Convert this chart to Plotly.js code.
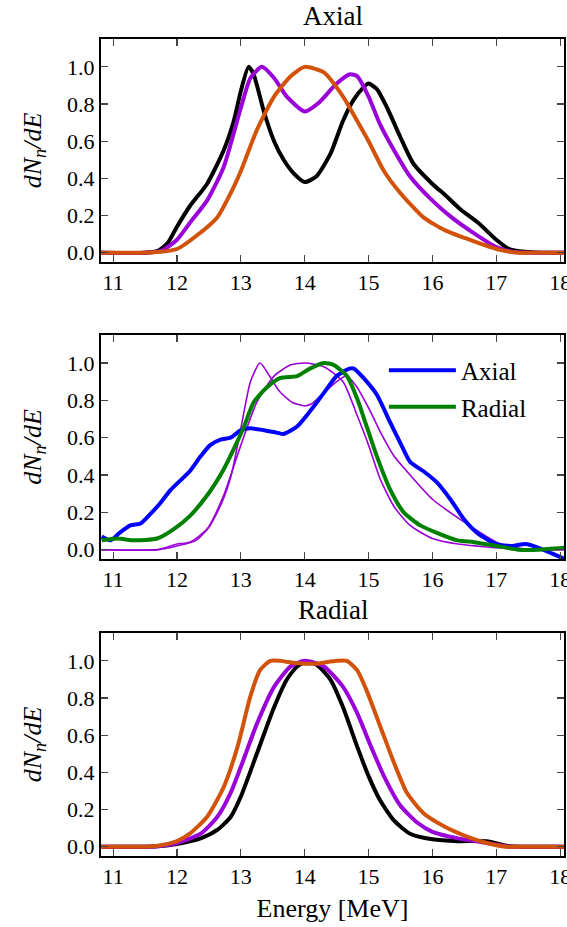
<!DOCTYPE html>
<html>
<head>
<meta charset="utf-8">
<script src="https://cdn.plot.ly/plotly-3.0.1.min.js"></script>
<style>html,body{margin:0;padding:0;background:#fff;}#chart{width:567px;height:927px;}</style>
</head>
<body>
<div id="chart"></div>
<script>
// ---- Top panel (Axial) ----
const topBlackE = [10.8,11.5,11.7,11.85,12.0,12.2,12.47,12.73,12.89,13.0,13.12,13.2,13.36,13.52,13.67,13.82,14.0,14.18,14.4,14.6,14.76,14.92,15.0,15.13,15.29,15.5,15.7,16.0,16.2,16.45,16.72,17.0,17.2,17.45,17.7,18.1];
const topBlackY = [0,0,0.01,0.05,0.14,0.25,0.37,0.55,0.71,0.87,1.0,0.96,0.76,0.60,0.50,0.43,0.38,0.41,0.53,0.71,0.82,0.89,0.91,0.88,0.78,0.62,0.48,0.37,0.31,0.23,0.16,0.07,0.02,0.005,0,0];
const topPurpleE = [10.8,11.5,11.75,12.0,12.2,12.47,12.73,13.0,13.15,13.33,13.52,13.72,14.0,14.23,14.5,14.71,14.82,15.0,15.18,15.4,15.65,16.0,16.3,16.67,17.0,17.25,17.5,18.1];
const topPurpleY = [0,0,0.01,0.07,0.16,0.28,0.46,0.78,0.94,1.0,0.94,0.84,0.76,0.81,0.91,0.96,0.95,0.84,0.69,0.55,0.41,0.28,0.19,0.10,0.03,0.005,0,0];
const topOrangeE = [10.8,11.5,11.75,12.0,12.3,12.63,12.84,13.0,13.25,13.52,13.78,14.0,14.3,14.6,14.82,15.0,15.24,15.5,15.86,16.2,16.5,17.0,17.35,17.6,18.1];
const topOrangeY = [0,0,0.005,0.02,0.09,0.19,0.32,0.44,0.66,0.84,0.95,1.0,0.97,0.84,0.71,0.60,0.44,0.32,0.19,0.12,0.08,0.02,0.0,0,0];

// ---- Middle panel (comparison) ----
const midAxialE = [10.82,10.96,11.1,11.27,11.43,11.58,11.74,11.9,12.05,12.2,12.37,12.52,12.68,12.84,13.0,13.15,13.36,13.52,13.67,13.88,14.08,14.3,14.5,14.7,14.77,14.92,15.13,15.34,15.5,15.65,15.86,16.07,16.28,16.5,16.7,17.0,17.25,17.46,17.66,17.87,18.07];
const midAxialY = [0.07,0.05,0.09,0.13,0.14,0.19,0.25,0.32,0.37,0.42,0.50,0.56,0.59,0.60,0.64,0.65,0.64,0.63,0.62,0.66,0.74,0.84,0.93,0.97,0.97,0.92,0.83,0.68,0.57,0.47,0.42,0.36,0.27,0.16,0.09,0.03,0.02,0.03,0.01,-0.02,-0.05];
const midRadialE = [10.82,11.07,11.33,11.69,11.95,12.2,12.47,12.73,12.89,13.05,13.2,13.41,13.62,13.88,14.08,14.3,14.45,14.66,14.82,14.97,15.13,15.34,15.55,15.81,16.07,16.39,16.65,17.0,17.35,17.66,18.07];
const midRadialY = [0.05,0.06,0.05,0.06,0.11,0.18,0.29,0.43,0.54,0.66,0.79,0.87,0.92,0.93,0.97,1.0,0.99,0.93,0.81,0.66,0.50,0.32,0.20,0.13,0.09,0.05,0.04,0.02,0.0,0.0,0.01];
const midThinAE = [10.8,11.7,12.0,12.3,12.5,12.7,12.85,13.0,13.15,13.3,13.45,13.6,13.8,14.0,14.1,14.3,14.5,14.65,14.8,15.0,15.2,15.4,15.65,16.0,16.4,16.85,17.0,17.3,17.6,18.1];
const midThinAY = [0,0,0.02,0.05,0.12,0.25,0.40,0.65,0.90,1.0,0.93,0.85,0.79,0.77,0.78,0.84,0.90,0.93,0.88,0.76,0.62,0.50,0.40,0.27,0.17,0.07,0.04,0.01,0,0];
const midThinRE = [10.8,11.7,12.0,12.2,12.47,12.73,13.0,13.25,13.52,13.78,14.0,14.3,14.6,14.82,15.0,15.18,15.4,15.65,16.0,16.4,17.0,17.4,18.1];
const midThinRY = [0,0,0.03,0.04,0.11,0.29,0.56,0.79,0.93,0.99,1.0,0.98,0.90,0.72,0.56,0.38,0.23,0.13,0.06,0.03,0.01,0,0];

// ---- Bottom panel (Radial) ----
const botBlackE = [10.8,11.5,11.7,12.0,12.37,12.63,12.84,13.0,13.25,13.52,13.72,13.88,14.0,14.18,14.4,14.6,14.82,15.0,15.18,15.4,15.65,16.0,16.4,16.85,17.16,17.4,18.1];
const botBlackY = [0,0,0.003,0.015,0.045,0.09,0.16,0.27,0.50,0.75,0.90,0.97,0.99,0.98,0.90,0.75,0.54,0.38,0.25,0.14,0.07,0.04,0.03,0.03,0.005,0,0];
const botPurpleE = [10.8,11.5,11.7,12.0,12.37,12.63,12.84,13.0,13.25,13.52,13.78,14.0,14.3,14.6,14.82,15.0,15.24,15.5,15.76,16.0,16.4,16.85,17.2,17.5,18.1];
const botPurpleY = [0,0,0.003,0.02,0.07,0.16,0.29,0.43,0.66,0.86,0.97,1.0,0.97,0.86,0.72,0.57,0.38,0.22,0.13,0.08,0.045,0.02,0,0,0];
const botOrangeE = [10.8,11.5,11.7,12.0,12.2,12.47,12.73,12.95,13.15,13.3,13.46,13.62,13.82,14.0,14.18,14.5,14.66,14.82,14.97,15.18,15.4,15.6,15.86,16.18,16.5,16.85,17.16,17.5,18.1];
const botOrangeY = [0,0,0.005,0.03,0.07,0.16,0.32,0.54,0.81,0.95,1.0,1.0,0.99,0.985,0.985,1.0,1.0,0.95,0.84,0.65,0.45,0.29,0.18,0.11,0.06,0.02,0,0,0];

const xTicks = [11,12,13,14,15,16,17,18];
const yTicks = [0.0,0.2,0.4,0.6,0.8,1.0];
const yTickText = ['0.0','0.2','0.4','0.6','0.8','1.0'];
const panelTitles = ['Axial','Radial'];
const legendNames = ['Axial','Radial'];

const BLACK='#000000', PURPLE='#9a00d8', ORANGE='#d2520a', BLUE='#0000ff', GREEN='#008000';
const W=4;
function tr(x,y,color,width,xa,ya,name,show,grp){
  return {x:x,y:y,type:'scatter',mode:'lines',line:{color:color,width:width,shape:'spline',smoothing:0.6},
    xaxis:xa,yaxis:ya,name:name||'',showlegend:!!show,legendgroup:grp||undefined,hoverinfo:'skip'};
}
const data = [
  tr(topBlackE,topBlackY,BLACK,W,'x','y'),
  tr(topPurpleE,topPurpleY,PURPLE,W,'x','y'),
  tr(topOrangeE,topOrangeY,ORANGE,W,'x','y'),
  tr(midThinAE,midThinAY,PURPLE,1.6,'x2','y2'),
  tr(midThinRE,midThinRY,PURPLE,1.6,'x2','y2'),
  tr(midAxialE,midAxialY,BLUE,W,'x2','y2',legendNames[0],true,'a'),
  tr(midRadialE,midRadialY,GREEN,W,'x2','y2',legendNames[1],true,'b'),
  tr(botBlackE,botBlackY,BLACK,W,'x3','y3'),
  tr(botPurpleE,botPurpleY,PURPLE,W,'x3','y3'),
  tr(botOrangeE,botOrangeY,ORANGE,W,'x3','y3')
];

const FONT = '"Liberation Serif", "Times New Roman", serif';
function xax(anchor){
  return {anchor:anchor,range:[10.81,18.06],tickvals:xTicks,ticktext:xTicks.map(String),ticks:'inside',ticklen:7,tickwidth:1.2,
    showline:true,linewidth:2,linecolor:'#000',mirror:'allticks',showgrid:false,zeroline:false,ticklabeloverflow:'allow',
    tickfont:{family:FONT,size:22,color:'#000'},domain:[0,1]};
}
function yax(anchor,dom){
  return {anchor:anchor,domain:dom,range:[-0.05,1.15],tickvals:yTicks,ticktext:yTickText,ticks:'inside',ticklen:7,tickwidth:1.2,
    showline:true,linewidth:2,linecolor:'#000',mirror:'allticks',showgrid:false,zeroline:false,
    tickfont:{family:FONT,size:22,color:'#000'},
    title:{text:'<i>dN</i><sub><i>n</i></sub><i>/dE</i>',font:{family:FONT,size:26,color:'#000'},standoff:18}};
}
const H=927;
const d1=[1-262/H,1-39/H], d2=[1-559/H,1-335/H], d3=[1-856/H,1-633/H];
const x3 = xax('y3');
x3.title = {text:'Energy [MeV]',font:{family:FONT,size:26,color:'#000'},standoff:10};
const layout = {
  width:567,height:927,margin:{l:101,r:3,t:0,b:0},paper_bgcolor:'#fff',plot_bgcolor:'#fff',
  font:{family:FONT,color:'#000'},
  xaxis:xax('y'),xaxis2:xax('y2'),xaxis3:x3,
  yaxis:yax('x',d1),yaxis2:yax('x2',d2),yaxis3:yax('x3',d3),
  showlegend:true,
  legend:{x:0.611,y:d2[1]-0.0135,xanchor:'left',yanchor:'top',bgcolor:'rgba(0,0,0,0)',borderwidth:0,
    font:{family:FONT,size:25,color:'#000'},tracegroupgap:1,itemwidth:67},
  annotations:[
    {text:panelTitles[0],xref:'paper',yref:'paper',x:0.5,y:d1[1],xanchor:'center',yanchor:'bottom',yshift:6,showarrow:false,font:{family:FONT,size:27,color:'#000'}},
    {text:panelTitles[1],xref:'paper',yref:'paper',x:0.5,y:d3[1],xanchor:'center',yanchor:'bottom',yshift:6,showarrow:false,font:{family:FONT,size:27,color:'#000'}}
  ]
};
Plotly.newPlot('chart',data,layout,{staticPlot:true,displayModeBar:false});
</script>
</body>
</html>
